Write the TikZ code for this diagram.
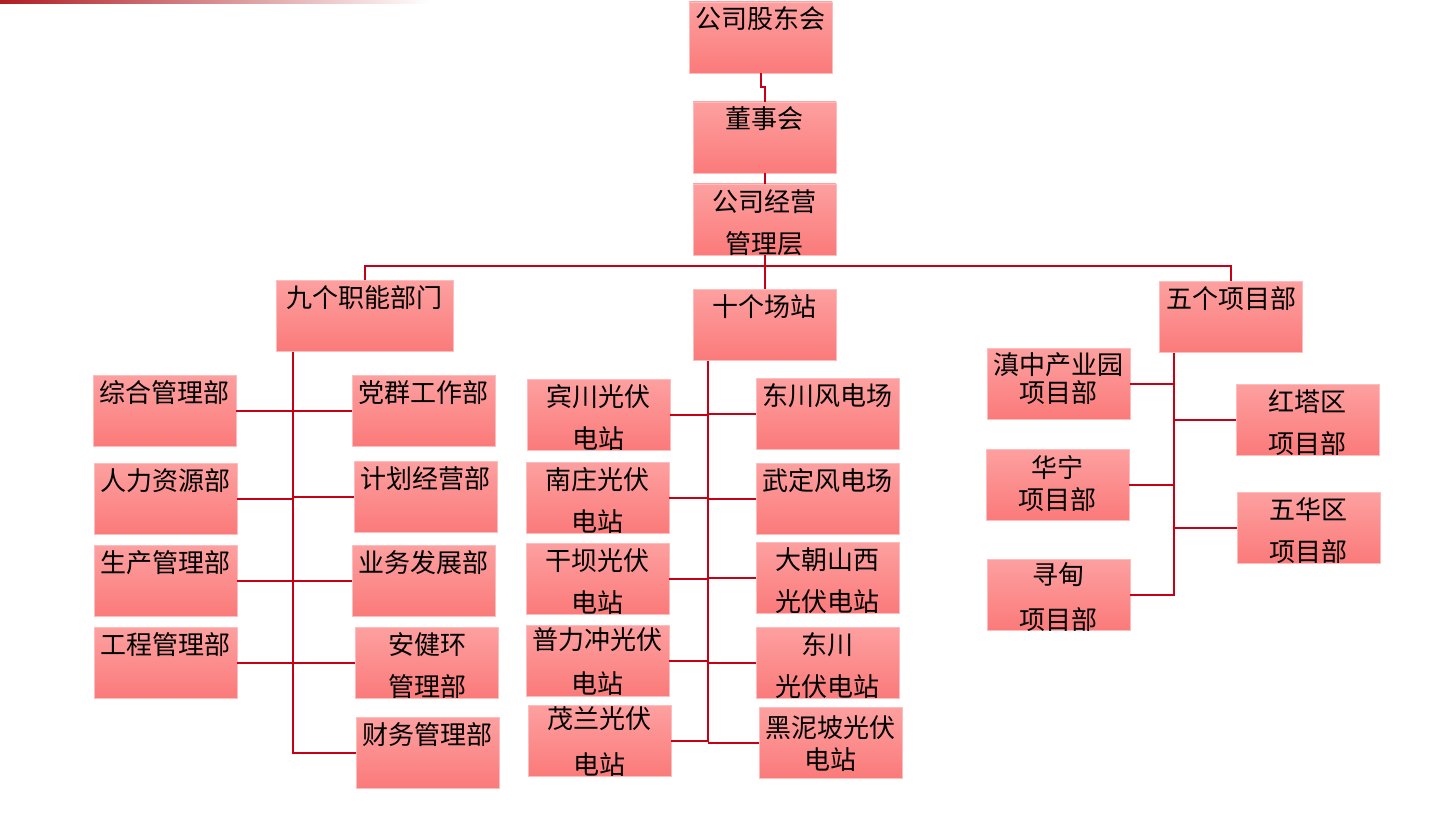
\documentclass[tikz,border=0pt]{standalone}
\usepackage{fontspec}
\newfontfamily\cjk{Noto Sans CJK SC}
\definecolor{boxtop}{RGB}{253,160,160}
\definecolor{boxbot}{RGB}{251,122,122}
\definecolor{boxedge}{RGB}{255,188,188}
\definecolor{linered}{RGB}{200,0,22}
\definecolor{barred}{RGB}{176,28,34}
\tikzstyle{box} = [rectangle, draw=boxedge, line width=0.8pt, top color=boxtop, bottom color=boxbot, minimum width=143pt, minimum height=71pt, inner sep=0pt, text height=27pt, text depth=44pt, align=center, font=\cjk\fontsize{26}{42}\selectfont]
\tikzstyle{twoline} = [text height=69pt, text depth=2pt]
\tikzstyle{line} = [draw=linered, line width=2pt]

\begin{document}
\begin{tikzpicture}[x=1pt,y=-1pt]
\useasboundingbox (0,0) rectangle (1453,821);
\shade[left color=barred, right color=white] (0,1) rectangle (430,4);

\node [box] (gudong) at (760.5,37.5) {公司股东会};
\node [box] (dongshi) at (764.5,137.5) {董事会};
\node [box,twoline] (jingying) at (764.5,219.5) {公司经营\\管理层};

\node [box,minimum width=177pt] (jiu) at (364.5,316) {九个职能部门};
\node [box] (shi) at (764.5,325) {十个场站};
\node [box] (wu) at (1231,317) {五个项目部};

%departments
\node [box] (zonghe) at (164.5,410.5) {综合管理部};
\node [box] (renli) at (165.5,498.5) {人力资源部};
\node [box] (shengchan) at (165.5,580.5) {生产管理部};
\node [box] (gongcheng) at (165.5,662.5) {工程管理部};
\node [box] (dangqun) at (423.5,410.5) {党群工作部};
\node [box] (jihua) at (425.5,496.5) {计划经营部};
\node [box] (yewu) at (423.5,580.5) {业务发展部};
\node [box,twoline] (anjian) at (427,662.5) {安健环\\管理部};
\node [box] (caiwu) at (427.5,752.5) {财务管理部};

%stations
\node [box,twoline] (binchuan) at (598.5,414.5) {宾川光伏\\电站};
\node [box,twoline] (nanzhuang) at (597.5,497.5) {南庄光伏\\电站};
\node [box,twoline] (ganba) at (597.5,578.5) {干坝光伏\\电站};
\node [box,twoline,text height=68pt,text depth=3pt,font=\cjk\fontsize{26}{44}\selectfont] (pulichong) at (597.5,660.5) {普力冲光伏\\电站};
\node [box,text height=69pt,text depth=2pt,font=\cjk\fontsize{26}{46}\selectfont] (maolan) at (599.5,741) {茂兰光伏\\电站};
\node [box] (dc_feng) at (827.5,413.5) {东川风电场};
\node [box] (wuding) at (827.5,498.5) {武定风电场};
\node [box,twoline] (dachaoshan) at (827.5,577.5) {大朝山西\\光伏电站};
\node [box,twoline] (dc_guang) at (827.5,662.5) {东川\\光伏电站};
\node [box,text height=62pt,text depth=9pt,font=\cjk\fontsize{26}{32}\selectfont] (heinipo) at (830.5,742.5) {黑泥坡光伏\\电站};

%projects
\node [box,text height=54pt,text depth=17pt,font=\cjk\fontsize{26}{28}\selectfont] (dianzhong) at (1058.5,383.5) {滇中产业园\\项目部};
\node [box,text height=60pt,text depth=11pt,font=\cjk\fontsize{26}{32}\selectfont] (huaning) at (1057.5,484.5) {华宁\\项目部};
\node [box,text height=70pt,text depth=1pt,font=\cjk\fontsize{26}{45}\selectfont] (xundian) at (1058.5,594.5) {寻甸\\项目部};
\node [box,twoline] (hongta) at (1307.5,419.5) {红塔区\\项目部};
\node [box,twoline] (wuhua) at (1308.5,527.5) {五华区\\项目部};

\coordinate (bus) at (765,266);
\coordinate (jiu_end) at (293,752.5);
\coordinate (shi_end) at (708,742);
\coordinate (wu_end) at (1174,594.5);

% arrows
\path [line] (gudong.south) -- ++(0,14) -| (dongshi.north);
\path [line] (dongshi) -- (jingying);
\path [line] (jingying) -- (shi);
\path [line] (jiu.north) |- (bus) -| (wu.north);

\path [line] (jiu.south -| jiu_end) |- (caiwu.west);
\foreach \n in {zonghe,renli,shengchan,gongcheng}
  \path [line] (\n.east) -- (\n.east -| jiu_end);
\foreach \n in {dangqun,jihua,yewu,anjian}
  \path [line] (\n.west) -- (\n.west -| jiu_end);

\path [line] (shi.south -| shi_end) -- (shi_end);
\foreach \n in {binchuan,nanzhuang,ganba,pulichong,maolan}
  \path [line] (\n.east) -- (\n.east -| shi_end);
\foreach \n in {dc_feng,wuding,dachaoshan,dc_guang,heinipo}
  \path [line] (\n.west) -- (\n.west -| shi_end);

\path [line] (wu.south -| wu_end) |- (xundian.east);
\foreach \n in {dianzhong,huaning}
  \path [line] (\n.east) -- (\n.east -| wu_end);
\foreach \n in {hongta,wuhua}
  \path [line] (\n.west) -- (\n.west -| wu_end);

\end{tikzpicture}
\end{document}
